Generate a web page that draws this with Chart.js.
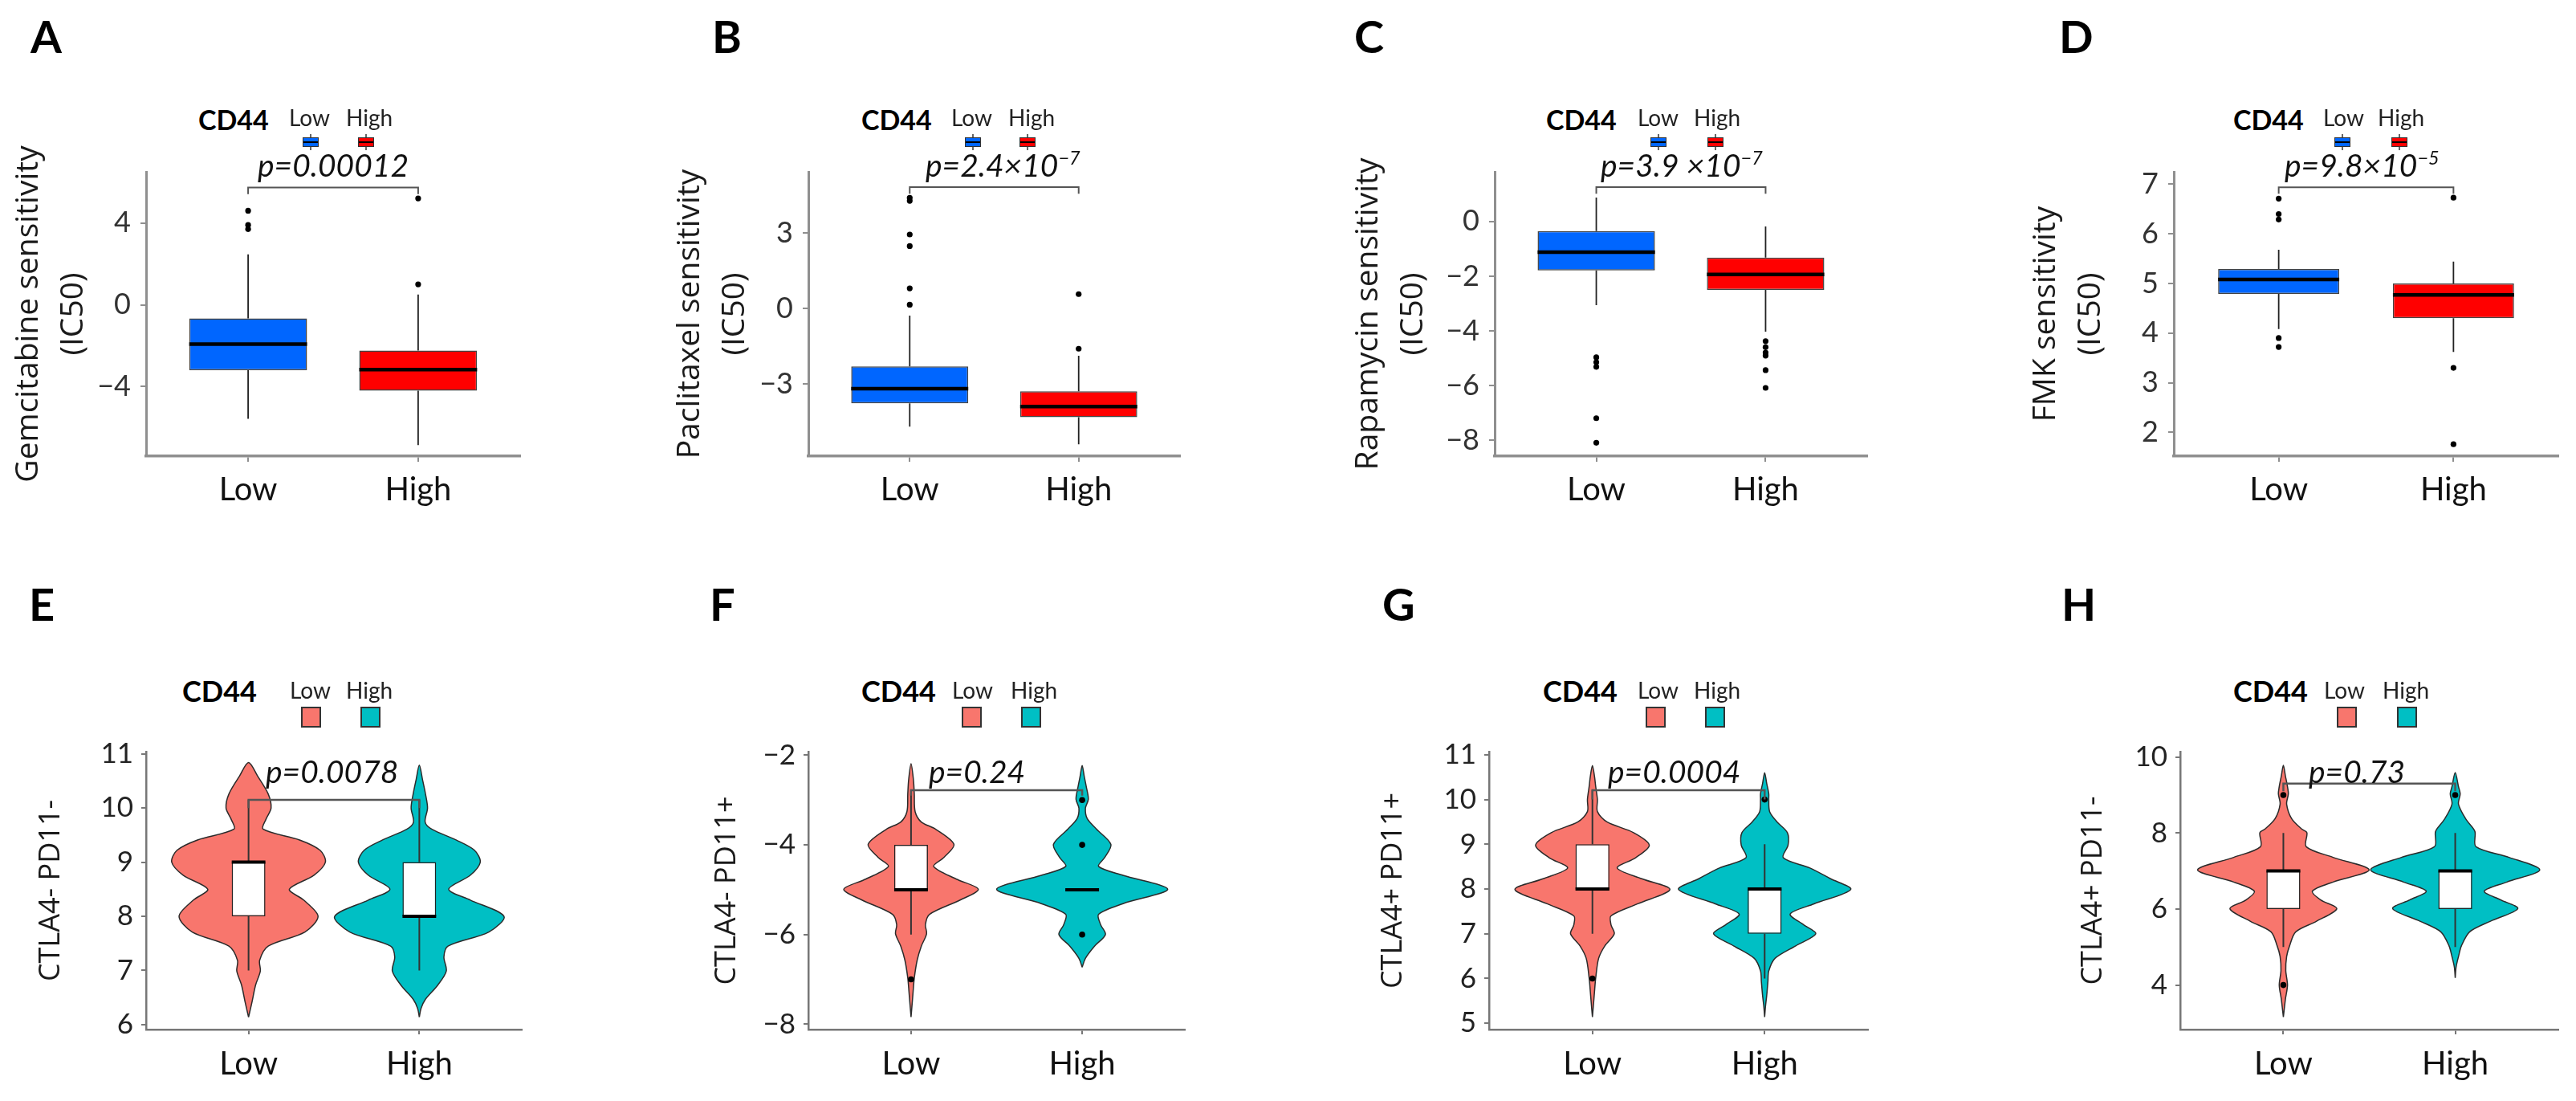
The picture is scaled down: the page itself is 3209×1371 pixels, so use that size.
<!DOCTYPE html>
<html><head><meta charset="utf-8">
<script src="https://cdn.jsdelivr.net/npm/chart.js@4.4.1/dist/chart.umd.min.js"></script>
<style>
html,body{margin:0;padding:0;background:#fff;}
body{width:3209px;height:1371px;position:relative;overflow:hidden;font-family:Lato,"Liberation Sans",sans-serif;}
canvas{position:absolute;}
.t{position:absolute;white-space:nowrap;line-height:1;color:#111;}
</style></head><body>
<script>
// ================= DATA =================
const categories = ['Low', 'High'];
const panelLetters = ['A','B','C','D','E','F','G','H'];
const legendTitle = 'CD44';
const yTitles = [
  ['Gemcitabine sensitivity', '(IC50)'],
  ['Paclitaxel sensitivity', '(IC50)'],
  ['Rapamycin sensitivity', '(IC50)'],
  ['FMK sensitivity', '(IC50)'],
  'CTLA4- PD11-', 'CTLA4- PD11+', 'CTLA4+ PD11+', 'CTLA4+ PD11-'
];
const pMantissa = ['p=0.00012', 'p=2.4×10', 'p=3.9 ×10', 'p=9.8×10', 'p=0.0078', 'p=0.24', 'p=0.0004', 'p=0.73'];
const pExponent = [null, '−7', '−7', '−5', null, null, null, null];

// box stats: [lower whisker, Q1, median, Q3, upper whisker]
const A_low = [-5.57, -3.2, -1.92, -0.67, 2.47];
const A_high = [-6.86, -4.2, -3.17, -2.24, 0.5];
const A_out_low = [4.6, 3.9, 3.7];
const A_out_high = [5.2, 1.0];
const A_yticks = [-4, 0, 4];
const A_yrange = [-7.4, 6.5];
const A_bracket = [5.73, 5.41];

const B_low = [-4.7, -3.77, -3.19, -2.3, -0.28];
const B_high = [-5.4, -4.32, -3.9, -3.29, -1.88];
const B_out_low = [4.4, 4.28, 2.94, 2.48, 0.8, 0.15];
const B_out_high = [0.57, -1.6];
const B_yticks = [-3, 0, 3];
const B_yrange = [-5.87, 5.43];
const B_bracket = [4.82, 4.56];

const C_low = [-3.06, -1.79, -1.12, -0.35, 0.88];
const C_high = [-4.03, -2.5, -1.94, -1.32, -0.18];
const C_out_low = [-4.97, -5.15, -5.32, -7.2, -8.1];
const C_out_high = [-4.38, -4.6, -4.8, -4.91, -5.44, -6.09];
const C_yticks = [-8, -6, -4, -2, 0];
const C_yrange = [-8.59, 1.82];
const C_bracket = [1.26, 1.02];

const D_low = [4.08, 4.79, 5.08, 5.29, 5.68];
const D_high = [3.62, 4.3, 4.77, 5.0, 5.44];
const D_out_low = [6.71, 6.4, 6.29, 3.9, 3.72];
const D_out_high = [6.73, 3.3, 1.76];
const D_yticks = [2, 3, 4, 5, 6, 7];
const D_yrange = [1.52, 7.25];
const D_bracket = [6.94, 6.81];

const E_low = [7, 8, 9, 9, 10.15];
const E_high = [7, 8, 8, 9, 10.15];
const E_out_low = [];
const E_out_high = [];
const E_yticks = [6, 7, 8, 9, 10, 11];
const E_yrange = [5.91, 11.04];
const E_bracket = [10.15, 10.0];
const E_low_vy = [6.14, 6.40, 6.73, 6.99, 7.19, 7.45, 7.71, 8.0, 8.30, 8.50, 8.76, 9.0, 9.22, 9.41, 9.61, 9.80, 10.0, 10.26, 10.59, 10.84];
const E_low_vw = [0, 0.019, 0.041, 0.069, 0.065, 0.115, 0.330, 0.407, 0.323, 0.239, 0.383, 0.450, 0.419, 0.299, 0.085, 0.103, 0.132, 0.115, 0.053, 0];
const E_high_vy = [6.14, 6.30, 6.47, 6.73, 6.99, 7.25, 7.45, 7.71, 8.0, 8.30, 8.50, 8.76, 9.0, 9.22, 9.41, 9.61, 9.74, 10.0, 10.26, 10.52, 10.79];
const E_high_vw = [0, 0.010, 0.036, 0.108, 0.158, 0.144, 0.168, 0.407, 0.496, 0.299, 0.172, 0.299, 0.357, 0.323, 0.215, 0.072, 0.034, 0.048, 0.036, 0.019, 0];

const F_low = [-6, -5, -5, -4, -2.85];
const F_high = [-5, -5, -5, -5, -5];
const F_out_low = [-7];
const F_out_high = [-3, -4, -6];
const F_yticks = [-8, -6, -4, -2];
const F_yrange = [-8.12, -1.92];
const F_bracket = [-2.78, -2.9];
const F_low_vy = [-7.84, -7.52, -7.28, -6.97, -6.57, -6.26, -5.98, -5.78, -5.55, -5.23, -4.99, -4.76, -4.48, -4.28, -3.99, -3.65, -3.49, -3.26, -2.86, -2.55, -2.19];
const F_low_vw = [0, 0.007, 0.012, 0.019, 0.036, 0.060, 0.091, 0.084, 0.108, 0.287, 0.393, 0.263, 0.132, 0.192, 0.251, 0.144, 0.060, 0.024, 0.019, 0.014, 0];
const F_high_vy = [-6.73, -6.53, -6.26, -6.0, -5.78, -5.55, -5.31, -4.99, -4.68, -4.48, -4.28, -3.99, -3.65, -3.41, -3.18, -2.98, -2.70, -2.47, -2.23];
const F_high_vw = [0, 0.019, 0.072, 0.136, 0.108, 0.096, 0.239, 0.500, 0.239, 0.096, 0.132, 0.168, 0.084, 0.029, 0.019, 0.036, 0.024, 0.012, 0];

const G_low = [7, 8, 8, 9, 10.21];
const G_high = [6, 7, 8, 8, 9];
const G_out_low = [6];
const G_out_high = [10];
const G_yticks = [5, 6, 7, 8, 9, 10, 11];
const G_yrange = [4.86, 11.07];
const G_bracket = [10.21, 10.0];
const G_low_vy = [5.14, 5.46, 5.70, 6.01, 6.45, 6.73, 7.0, 7.20, 7.40, 7.67, 7.99, 8.23, 8.47, 8.70, 8.98, 9.26, 9.50, 9.73, 10.0, 10.29, 10.52, 10.76];
const G_low_vw = [0, 0.007, 0.012, 0.019, 0.036, 0.072, 0.127, 0.108, 0.108, 0.263, 0.450, 0.287, 0.144, 0.251, 0.330, 0.239, 0.084, 0.029, 0.029, 0.019, 0.012, 0];
const G_high_vy = [5.14, 5.38, 5.62, 5.93, 6.17, 6.45, 6.73, 7.0, 7.20, 7.44, 7.67, 7.99, 8.23, 8.47, 8.70, 8.98, 9.26, 9.50, 9.73, 10.0, 10.13, 10.36, 10.60];
const G_high_vw = [0, 0.005, 0.012, 0.019, 0.024, 0.060, 0.180, 0.297, 0.227, 0.148, 0.287, 0.500, 0.383, 0.263, 0.108, 0.136, 0.132, 0.072, 0.029, 0.024, 0.024, 0.012, 0];

const H_low = [5, 6, 7, 7, 8];
const H_high = [5, 6, 7, 7, 8];
const H_out_low = [9, 4];
const H_out_high = [9];
const H_yticks = [4, 6, 8, 10];
const H_yrange = [2.83, 10.14];
const H_bracket = [9.3, 9.1];
const H_low_vy = [3.16, 3.63, 4.0, 4.38, 4.75, 5.03, 5.40, 5.68, 6.01, 6.24, 6.47, 6.71, 7.03, 7.36, 7.64, 8.01, 8.10, 8.38, 8.76, 9.03, 9.22, 9.50, 9.78];
const H_low_vw = [0, 0.012, 0.024, 0.014, 0.019, 0.036, 0.072, 0.193, 0.311, 0.217, 0.169, 0.289, 0.499, 0.289, 0.133, 0.137, 0.108, 0.048, 0.019, 0.029, 0.024, 0.012, 0];
const H_high_vy = [4.19, 4.47, 4.75, 5.03, 5.40, 5.68, 6.01, 6.24, 6.47, 6.71, 7.03, 7.36, 7.64, 8.01, 8.10, 8.38, 8.76, 9.03, 9.22, 9.59];
const H_high_vw = [0, 0.005, 0.019, 0.036, 0.084, 0.205, 0.364, 0.265, 0.169, 0.301, 0.492, 0.313, 0.121, 0.116, 0.108, 0.060, 0.019, 0.029, 0.019, 0];

// ================= STYLE / LAYOUT =================
const ROW_STYLE = [
  {tick:36, xl:40, title:39, lh:56, xh:100, ytPad:12, xtPad:11, tickLen:7, axisC:'#8f8f8f', yBW:3, xBW:3.5, tickC:'#333',
   boxW:0.693, medW:4.5, ptR:3.6, whC:'#222', whW:1.8, brC:'#555', brW:2, boxBC:'rgba(35,35,35,0.85)', boxBW:1.5,
   fills:['#0066FF', '#FF0000'], letterY:66, cdY:162, lhY:157, keyT:171, keyB:183, pY:220, cdSize:34},
  {tick:35, xl:40, title:36, lh:40, xh:90, ytPad:10, xtPad:13, tickLen:6, axisC:'#777', yBW:2.5, xBW:2.5, tickC:'#222',
   boxW:0.197, medW:4, ptR:3.8, whC:'#333', whW:2, brC:'#555', brW:2.5, boxBC:'#222', boxBW:1.5,
   fills:['#F8766D', '#00BFC4'], letterY:773, cdY:874, lhY:870, keyT:880, keyB:906, pY:975, cdSize:36}
];
const LAYOUT = [
  {L:182, R:648, T:214, B:568, tx:36, letterX:38, legX:[247,360,431], keyX:[387,456], pX:321},
  {L:1007, R:1470, T:214, B:568, tx:860, letterX:887, legX:[1073,1185,1256], keyX:[1212,1280], pX:1153},
  {L:1862, R:2326, T:214, B:568, tx:1705, letterX:1687, legX:[1926,2040,2110], keyX:[2066,2137], pX:1994},
  {L:2708, R:3187, T:214, B:568, tx:2549, letterX:2565, legX:[2782,2894,2962], keyX:[2918,2989], pX:2846},
  {L:182, R:650, T:936, B:1282, tx:64, letterX:36, legX:[227,361,431], keyX:[387.5,461], pX:331},
  {L:1007, R:1476, T:936, B:1282, tx:906, letterX:884, legX:[1073,1186,1259], keyX:[1210.5,1284.5], pX:1157},
  {L:1855, R:2327, T:936, B:1282, tx:1736, letterX:1722, legX:[1922,2040,2110], keyX:[2062,2136.5], pX:2003},
  {L:2716, R:3187, T:936, B:1282, tx:2608, letterX:2568, legX:[2782,2895,2968], keyX:[2923.5,2998], pX:2876}
];
const PANEL_DATA = [
  {low:A_low, high:A_high, outL:A_out_low, outH:A_out_high, yt:A_yticks, yr:A_yrange, br:A_bracket},
  {low:B_low, high:B_high, outL:B_out_low, outH:B_out_high, yt:B_yticks, yr:B_yrange, br:B_bracket},
  {low:C_low, high:C_high, outL:C_out_low, outH:C_out_high, yt:C_yticks, yr:C_yrange, br:C_bracket},
  {low:D_low, high:D_high, outL:D_out_low, outH:D_out_high, yt:D_yticks, yr:D_yrange, br:D_bracket},
  {low:E_low, high:E_high, outL:E_out_low, outH:E_out_high, yt:E_yticks, yr:E_yrange, br:E_bracket, v:[[E_low_vy,E_low_vw],[E_high_vy,E_high_vw]]},
  {low:F_low, high:F_high, outL:F_out_low, outH:F_out_high, yt:F_yticks, yr:F_yrange, br:F_bracket, v:[[F_low_vy,F_low_vw],[F_high_vy,F_high_vw]]},
  {low:G_low, high:G_high, outL:G_out_low, outH:G_out_high, yt:G_yticks, yr:G_yrange, br:G_bracket, v:[[G_low_vy,G_low_vw],[G_high_vy,G_high_vw]]},
  {low:H_low, high:H_high, outL:H_out_low, outH:H_out_high, yt:H_yticks, yr:H_yrange, br:H_bracket, v:[[H_low_vy,H_low_vw],[H_high_vy,H_high_vw]]}
];

Chart.defaults.font.family = 'Lato';

function fmtTick(v){ return v < 0 ? '\u2212' + Math.abs(v) : String(v); }

function violinPoints(cx, ys, ws){
  const pts = [];
  for (let i = 0; i < ys.length; i++) pts.push({x: cx + ws[i], y: ys[i]});
  for (let i = ys.length - 2; i >= 0; i--) pts.push({x: cx - ws[i], y: ys[i]});
  return pts;
}

function makeChart(idx){
  const P = LAYOUT[idx], D = PANEL_DATA[idx];
  const row = idx < 4 ? 0 : 1;
  const S = ROW_STYLE[row];
  const axisLeft = P.tx - S.lh / 2;
  const cx = Math.floor(axisLeft - 5), cy = P.T - 40;
  const padL = axisLeft - cx;
  const cw = P.R + 15 - cx, ch = P.B + S.xh - cy;
  const cv = document.createElement('canvas');
  cv.width = cw; cv.height = ch;
  cv.style.left = cx + 'px'; cv.style.top = cy + 'px';
  cv.style.width = cw + 'px'; cv.style.height = ch + 'px';
  document.body.appendChild(cv);

  const groups = [D.low, D.high];
  const outs = [D.outL, D.outH];
  const hw = S.boxW / 2;
  const datasets = [];

  if (D.v) {
    D.v.forEach((vv, g) => {
      datasets.push({type:'line', data: violinPoints(g + 1, vv[0], vv[1]), fill:'shape',
        backgroundColor: S.fills[g], borderColor:'#2b2b2b', borderWidth:1.5, pointRadius:0,
        tension:0.3, order:10});
    });
  }
  // whiskers
  const wh = [];
  groups.forEach((s, g) => {
    wh.push({x:g+1, y:s[3]}, {x:g+1, y:s[4]}, {x:g+1, y:null}, {x:g+1, y:s[0]}, {x:g+1, y:s[1]}, {x:g+1, y:null});
  });
  datasets.push({type:'line', data:wh, borderColor:S.whC, borderWidth:S.whW, pointRadius:0, spanGaps:false, order:8});
  // boxes
  datasets.push({type:'bar', data: groups.map((s, g) => ({x:g+1, y:[s[1], s[3]]})),
    backgroundColor: row === 0 ? S.fills : ['#ffffff', '#ffffff'],
    borderColor:S.boxBC, borderWidth:S.boxBW, borderSkipped:false, grouped:false,
    categoryPercentage:1, barPercentage:S.boxW, order:7});
  // medians
  const md = [];
  groups.forEach((s, g) => { md.push({x:g+1-hw, y:s[2]}, {x:g+1+hw, y:s[2]}, {x:g+1.5, y:null}); });
  datasets.push({type:'line', data:md, borderColor:'#000', borderWidth:S.medW, pointRadius:0, spanGaps:false, borderCapStyle:'butt', order:6});
  // outliers
  const op = [];
  outs.forEach((arr, g) => arr.forEach(v => op.push({x:g+1, y:v})));
  datasets.push({type:'scatter', data:op, pointRadius:S.ptR, backgroundColor:'#000', borderWidth:0, showLine:false, order:5});
  // bracket
  datasets.push({type:'line', data:[{x:1, y:D.br[1]}, {x:1, y:D.br[0]}, {x:2, y:D.br[0]}, {x:2, y:D.br[1]}],
    borderColor:S.brC, borderWidth:S.brW, pointRadius:0, order:4});

  new Chart(cv, {
    type:'line',
    data:{datasets},
    options:{
      responsive:false, animation:false, devicePixelRatio:1, events:[],
      layout:{padding:{left:padL, top:40, right:15, bottom:0}},
      plugins:{legend:{display:false}, tooltip:{enabled:false}},
      scales:{
        x:{type:'linear', min:0.4, max:2.6, offset:false, beginAtZero:false,
          afterBuildTicks:(s) => { s.ticks = categories.map((c, i) => ({value:i + 1})); },
          afterFit:(s) => { s.height = S.xh; },
          ticks:{callback:(v) => categories[Math.round(v) - 1], font:{family:'Lato', size:S.xl}, color:'#111',
            padding:S.xtPad, maxRotation:0, autoSkip:false},
          grid:{display:true, offset:false, drawOnChartArea:false, drawTicks:true, tickLength:S.tickLen, color:S.axisC, lineWidth:2},
          border:{display:true, color:S.axisC, width:S.xBW}
        },
        y:{type:'linear', min:D.yr[0], max:D.yr[1], beginAtZero:false,
          afterBuildTicks:(s) => { s.ticks = D.yt.map(v => ({value:v})); },
          afterFit:(s) => { s.width = P.L - axisLeft; },
          ticks:{callback:(v) => fmtTick(v), font:{family:'Lato', size:S.tick}, color:S.tickC, padding:S.ytPad, autoSkip:false},
          grid:{display:true, drawOnChartArea:false, drawTicks:true, tickLength:S.tickLen, color:S.axisC, lineWidth:2},
          border:{display:true, color:S.axisC, width:S.yBW},
          title:{display:true, text:yTitles[idx], color:'#1a1a1a', padding:0,
            font:{family:'"Open Sans"', size:S.title, lineHeight:S.lh / S.title}}
        }
      }
    }
  });
}

function addText(html, x, baseY, css, align){
  const el = document.createElement('div');
  el.className = 't';
  el.innerHTML = html;
  Object.assign(el.style, css);
  const m = document.createElement('span');
  m.style.cssText = 'display:inline-block;width:0;height:0;vertical-align:baseline;';
  el.appendChild(m);
  el.style.left = '0px'; el.style.top = '0px';
  document.body.appendChild(el);
  const bt = m.offsetTop;
  el.style.top = (baseY - bt) + 'px';
  const w = el.getBoundingClientRect().width;
  el.style.left = (align === 'center' ? x - w / 2 : x) + 'px';
}

function addBox(x, y, w, h, css){
  const d = document.createElement('div');
  d.style.cssText = 'position:absolute;box-sizing:border-box;';
  Object.assign(d.style, {left:x + 'px', top:y + 'px', width:w + 'px', height:h + 'px'}, css);
  document.body.appendChild(d);
  return d;
}

function decorate(idx){
  const P = LAYOUT[idx];
  const row = idx < 4 ? 0 : 1;
  const S = ROW_STYLE[row];
  addText(panelLetters[idx], P.letterX, S.letterY, {fontFamily:'Lato', fontWeight:'700', fontSize:'56px', color:'#000'});
  addText(legendTitle, P.legX[0], S.cdY, {fontFamily:'Lato', fontWeight:'700', fontSize:S.cdSize + 'px', color:'#000'});
  addText(categories[0], P.legX[1], S.lhY, {fontFamily:'Lato', fontSize:'28px', color:'#222'});
  addText(categories[1], P.legX[2], S.lhY, {fontFamily:'Lato', fontSize:'28px', color:'#222'});
  P.keyX.forEach((kx, g) => {
    if (row === 0) {
      addBox(kx - 0.75, S.keyT - 4, 1.5, S.keyB - S.keyT + 8, {background:'#666'});
      addBox(kx - 10, S.keyT, 20, S.keyB - S.keyT, {background:S.fills[g], border:'1px solid #333'});
      addBox(kx - 9, (S.keyT + S.keyB) / 2 - 1, 18, 2, {background:'#000'});
    } else {
      addBox(kx - 12.5, S.keyT, 25, S.keyB - S.keyT, {background:S.fills[g], border:'2px solid #333'});
    }
  });
  let html = pMantissa[idx];
  if (pExponent[idx]) html += '<span style="font-size:0.6em;vertical-align:0.62em;">' + pExponent[idx] + '</span>';
  addText(html, P.pX, S.pY, {fontFamily:'Lato', fontStyle:'italic', fontSize:'39px', color:'#111'});
}

for (let i = 0; i < 8; i++) { makeChart(i); decorate(i); }
</script>
</body></html>
